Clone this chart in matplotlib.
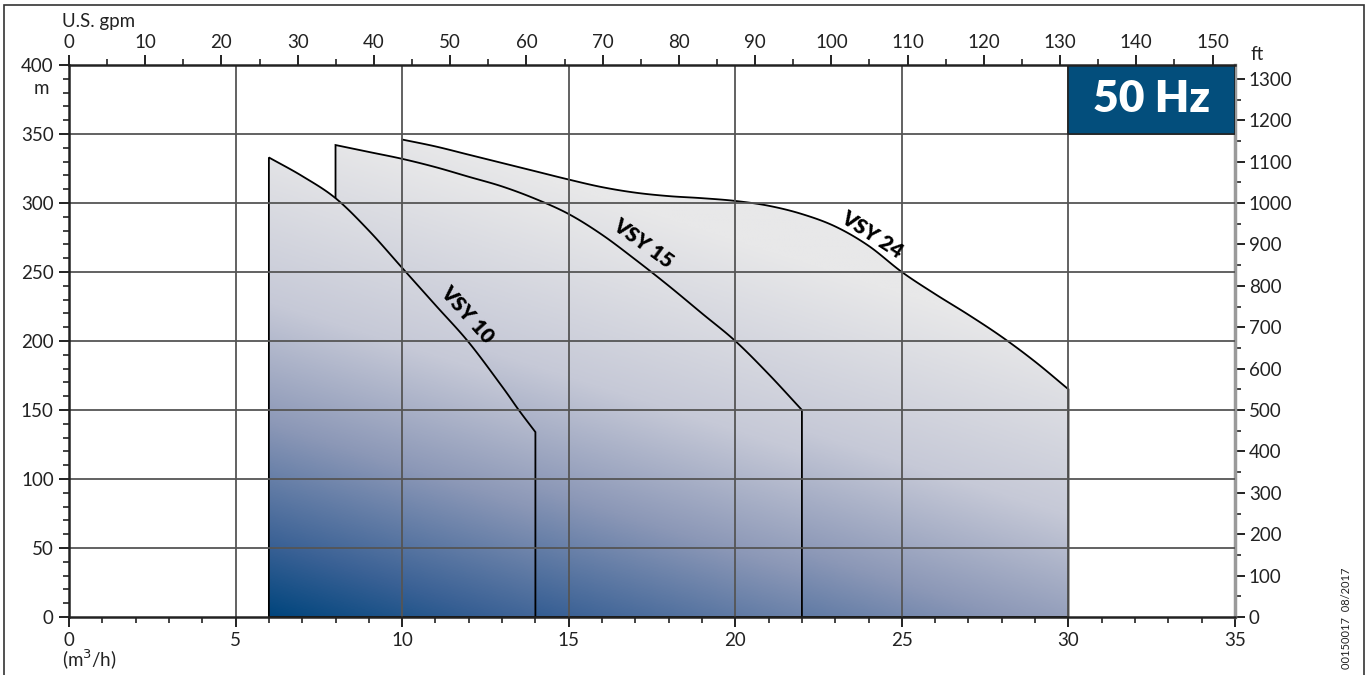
import numpy as np
import matplotlib
matplotlib.use("Agg")
import matplotlib.pyplot as plt
from matplotlib.patches import Polygon, Rectangle
from matplotlib.colors import LinearSegmentedColormap

plt.rcParams['font.family'] = ['Lato', 'DejaVu Sans']

# ---- data (Q in m3/h, H in m) ----
vsy10_q = [6, 7, 8, 9, 10, 11, 12, 13, 13.5, 14]
vsy10_h = [333, 319.5, 303.5, 280, 253, 226, 199, 167, 150, 134]

vsy15_q = [8, 9, 10, 11, 12, 13, 14, 15, 16, 17, 18, 19, 20, 21, 22]
vsy15_h = [342, 337, 332, 326, 319, 312, 303, 292, 277, 259, 240, 220, 200, 176, 150]

vsy24_q = [10, 11, 12, 13, 14, 15, 16, 17, 18, 19, 20, 21, 22, 23, 24, 25, 26, 27, 28, 29, 30]
vsy24_h = [346, 341, 335, 329, 323, 317, 311.5, 307.5, 305, 303.5, 301.5, 298, 292, 283, 269, 250, 234, 219, 203, 185, 165]

labels = ["VSY 10", "VSY 15", "VSY 24"]
label_pos = [(11.95, 219), (17.25, 271), (24.1, 277)]
label_rot = [-48, -36, -33]

x_ticks = [0, 5, 10, 15, 20, 25, 30, 35]
y_ticks = [0, 50, 100, 150, 200, 250, 300, 350, 400]
gpm_ticks = list(range(0, 151, 10))
ft_ticks = list(range(0, 1301, 100))

GPM_PER_M3H = 4.37   # as drawn on the reference's top scale
FT_PER_M = 1 / 0.3   # as drawn on the reference's right scale

fig = plt.figure(figsize=(13.71, 6.75), dpi=100)
ax = fig.add_axes([69/1371, 58/675, (1235-69)/1371, (617-65)/675])
ax.set_xlim(0, 35)
ax.set_ylim(0, 400)

cmap = LinearSegmentedColormap.from_list(
    "g", [(0, '#00457d'), (0.15, '#3a6195'), (0.4, '#8c98b7'),
          (0.65, '#c6c9d7'), (1, '#e8e8e9')])


def smooth(qs, hs, k=20):
    """Catmull-Rom rendering of the curve through the given points."""
    p = np.column_stack([qs, hs]).astype(float)
    p = np.vstack([2 * p[0] - p[1], p, 2 * p[-1] - p[-2]])
    out = []
    s = np.linspace(0, 1, k, endpoint=False)[:, None]
    for i in range(1, len(p) - 2):
        p0, p1, p2, p3 = p[i - 1], p[i], p[i + 1], p[i + 2]
        seg = 0.5 * ((2 * p1) + (-p0 + p2) * s + (2 * p0 - 5 * p1 + 4 * p2 - p3) * s ** 2
                     + (-p0 + 3 * p1 - 3 * p2 + p3) * s ** 3)
        out.append(seg)
    out.append(p[-2][None, :])
    return np.vstack(out)


def grad_fill(qs, hs, z):
    x0, x1 = qs[0], qs[-1]
    ymax = max(hs)
    curve = smooth(qs, hs)
    verts = np.vstack([[x0, 0], curve, [x1, 0]])
    patch = Polygon(verts, closed=True, facecolor='none', edgecolor='black',
                    lw=1.3, zorder=z + 0.5, joinstyle='miter')
    ax.add_patch(patch)
    n = 400
    xx = np.linspace(x0, x1, n)
    yy = np.linspace(0, ymax, n)
    X, Y = np.meshgrid(xx, yy)
    t = np.clip(0.022 * (X - x0) + 0.00285 * Y, 0, 1)
    im = ax.imshow(cmap(t), extent=[x0, x1, 0, ymax], origin='lower',
                   aspect='auto', zorder=z, interpolation='bilinear')
    im.set_clip_path(patch)


grad_fill(vsy24_q, vsy24_h, 1)
grad_fill(vsy15_q, vsy15_h, 2)
grad_fill(vsy10_q, vsy10_h, 3)

ax.set_xlim(0, 35)
ax.set_ylim(0, 400)

# grid on top of fills
for xv in x_ticks[1:-1]:
    ax.axvline(xv, color='#555555', lw=1.3, zorder=5)
for yv in y_ticks[1:-1]:
    ax.axhline(yv, color='#555555', lw=1.3, zorder=5)

for txt, (lx, ly), r in zip(labels, label_pos, label_rot):
    ax.text(lx, ly, txt, rotation=r, ha='center', va='center', fontsize=15,
            fontweight='heavy', color='black', zorder=7, rotation_mode='anchor')

# 50 Hz box
ax.add_patch(Rectangle((30, 350), 5, 50, facecolor='#034e7c', edgecolor='#222222',
                       lw=1.2, zorder=8))
ax.text(32.5, 375, "50 Hz", color='white', fontsize=32, fontweight='heavy',
        ha='center', va='center', zorder=9)

# axes styling
ax.set_xticks(x_ticks)
ax.set_yticks(y_ticks)
ax.set_xticks(np.arange(0, 36, 1), minor=True)
ax.set_yticks(np.arange(0, 401, 10), minor=True)
ax.tick_params(axis='both', which='major', direction='out', length=7, width=1.4,
               labelsize=13.5, color='#222222', labelcolor='#222222', pad=4)
ax.tick_params(axis='both', which='minor', direction='out', length=4, width=1.2,
               color='#222222')
ax.set_yticklabels([str(v) for v in y_ticks])
for s in ['left', 'bottom', 'top']:
    ax.spines[s].set_color('#222222')
    ax.spines[s].set_linewidth(1.8)
    ax.spines[s].set_zorder(10)
ax.spines['right'].set_color('#9a9a9a')
ax.spines['right'].set_linewidth(2.5)

sec_x = ax.secondary_xaxis('top', functions=(lambda q: q * GPM_PER_M3H,
                                             lambda g: g / GPM_PER_M3H))
sec_x.set_xticks(gpm_ticks)
sec_x.set_xticks(np.arange(0, 155, 5), minor=True)
sec_x.tick_params(which='major', direction='out', length=7, width=1.4,
                  labelsize=13.5, color='#222222', labelcolor='#222222', pad=3)
sec_x.tick_params(which='minor', direction='out', length=4, width=1.2, color='#222222')
sec_x.spines['top'].set_visible(False)

sec_y = ax.secondary_yaxis('right', functions=(lambda m: m * FT_PER_M,
                                               lambda f: f / FT_PER_M))
sec_y.set_yticks(ft_ticks)
sec_y.set_yticks(np.arange(0, 1301, 50), minor=True)
sec_y.tick_params(which='major', direction='out', length=7, width=1.4,
                  labelsize=13.5, color='#222222', labelcolor='#222222', pad=3)
sec_y.tick_params(which='minor', direction='out', length=4, width=1.2, color='#222222')
sec_y.spines['right'].set_visible(False)

# unit labels
fig.text(62/1371, 1 - 21/675, "U.S. gpm", fontsize=13.5, color='#222222',
         ha='left', va='center')
fig.text(41/1371, 1 - 88/675, "m", fontsize=13.5, color='#222222',
         ha='center', va='center')
fig.text(1257/1371, 1 - 55/675, "ft", fontsize=13.5, color='#222222',
         ha='center', va='center')
fig.text(62/1371, 1 - 660/675, "(m$^3$/h)", fontsize=13.5, color='#222222',
         ha='left', va='center')
fig.text(1347/1371, 1 - 618/675, "00150017  08/2017", fontsize=8, color='#222222',
         rotation=90, ha='center', va='center')

# outer frame
fig.patches.append(Rectangle((4/1371, -0.05), (1364-4)/1371, (675-5)/675 + 0.05,
                             transform=fig.transFigure, fill=False,
                             edgecolor='#333333', lw=1.2))

fig.savefig("out.png", dpi=100)
